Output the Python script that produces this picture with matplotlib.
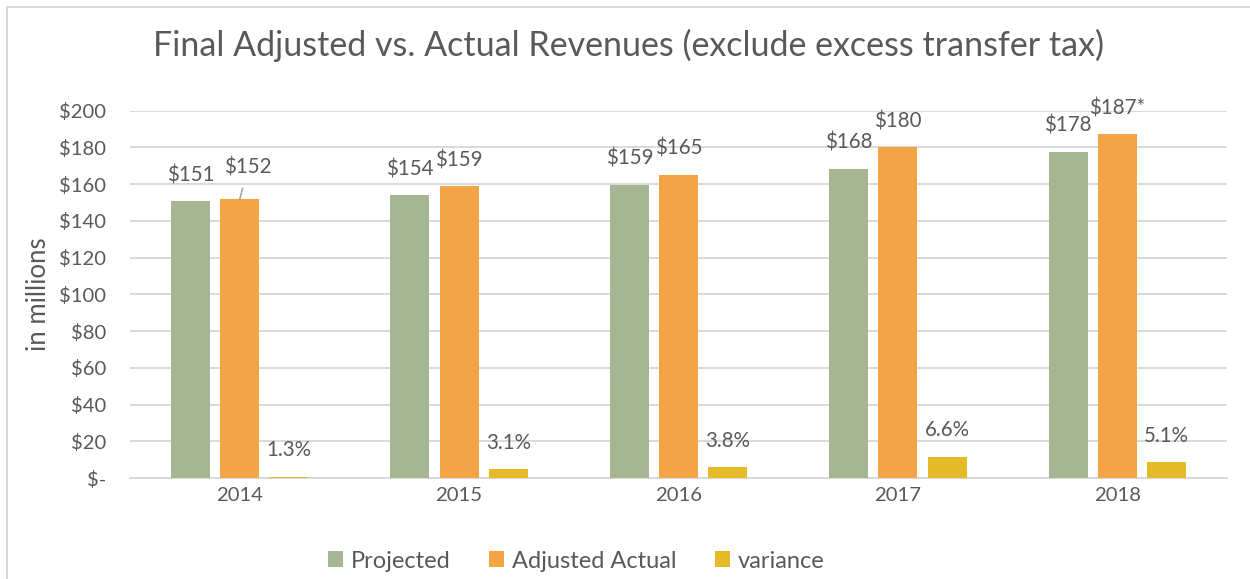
import numpy as np
import matplotlib
matplotlib.use("Agg")
import matplotlib.pyplot as plt
from matplotlib.lines import Line2D

# data
years = ["2014", "2015", "2016", "2017", "2018"]
projected = [150.6, 153.9, 159.4, 168.3, 177.7]
adjusted_actual = [151.7, 158.8, 165.2, 180.0, 187.1]
variance = [0.8, 4.8, 6.0, 11.8, 8.8]
projected_labels = ["$151", "$154", "$159", "$168", "$178"]
actual_labels = ["$152", "$159", "$165", "$180", "$187*"]
variance_labels = ["1.3%", "3.1%", "3.8%", "6.6%", "5.1%"]
yticks = list(range(0, 201, 20))

green = "#A6B592"
orange = "#F3A447"
yellow = "#E5BA29"
txt = "#595959"
grid = "#D9D9D9"

plt.rcParams['font.family'] = ['Lato', 'DejaVu Sans']

fig = plt.figure(figsize=(12.5, 5.79), dpi=100)
ax = fig.add_axes([0.104, 0.174, 0.8776, 0.6348])

x = np.arange(len(years))
w = 0.178
off = 0.224
b1 = ax.bar(x - off, projected, w, color=green, label="Projected", zorder=3)
b2 = ax.bar(x, adjusted_actual, w, color=orange, label="Adjusted Actual", zorder=3)
b3 = ax.bar(x + off, variance, w, color=yellow, label="variance", zorder=3)

lab_kw = dict(ha="center", va="center", fontsize=14.8, color=txt,
              textcoords="offset points")
for i in range(len(years)):
    ax.annotate(projected_labels[i], (x[i] - off, projected[i]), xytext=(0, 19), **lab_kw)
    ax.annotate(variance_labels[i], (x[i] + off, variance[i]), xytext=(0, 19), **lab_kw)
    if i == 0:
        # label moved by hand, with leader line
        ax.annotate(actual_labels[i], (x[i], adjusted_actual[i]), xytext=(6, 23),
                    arrowprops=dict(arrowstyle="-", color="#A6A6A6", lw=1.2,
                                    shrinkA=6, shrinkB=0), **lab_kw)
    else:
        ax.annotate(actual_labels[i], (x[i], adjusted_actual[i]), xytext=(0, 19), **lab_kw)

ax.set_xlim(-0.5, len(years) - 0.5)
ax.set_ylim(0, 200)
ax.set_yticks(yticks)
ax.set_yticklabels(["$-" if v == 0 else "$%d" % v for v in yticks])
ax.set_xticks(x)
ax.set_xticklabels(years)
ax.tick_params(axis="both", length=0, labelsize=14.6, labelcolor=txt)
ax.tick_params(axis="y", pad=17)
ax.tick_params(axis="x", pad=6)
ax.yaxis.grid(True, color=grid, lw=1.4, zorder=0)
for s in ["top", "right", "left"]:
    ax.spines[s].set_visible(False)
ax.spines["bottom"].set_color(grid)
ax.spines["bottom"].set_linewidth(1.4)
ax.set_ylabel("in millions", fontsize=18.5, color=txt, labelpad=6)

fig.text(0.503, 0.922, "Final Adjusted vs. Actual Revenues (exclude excess transfer tax)",
         ha="center", va="center", fontsize=24.5, color=txt)

leg = fig.legend(handles=[b1, b2, b3], loc="center", bbox_to_anchor=(0.461, 0.031),
                 ncol=3, frameon=False, fontsize=17, handlelength=0.65, handleheight=0.65,
                 columnspacing=1.6, handletextpad=0.35)
for t in leg.get_texts():
    t.set_color(txt)

# chart border
fig.add_artist(Line2D([7 / 1250, 1], [1 - 7 / 579, 1 - 7 / 579], color=grid, lw=1.5))
fig.add_artist(Line2D([7 / 1250, 7 / 1250], [0, 1 - 7 / 579], color=grid, lw=1.5))

fig.savefig("out.png", dpi=100)
